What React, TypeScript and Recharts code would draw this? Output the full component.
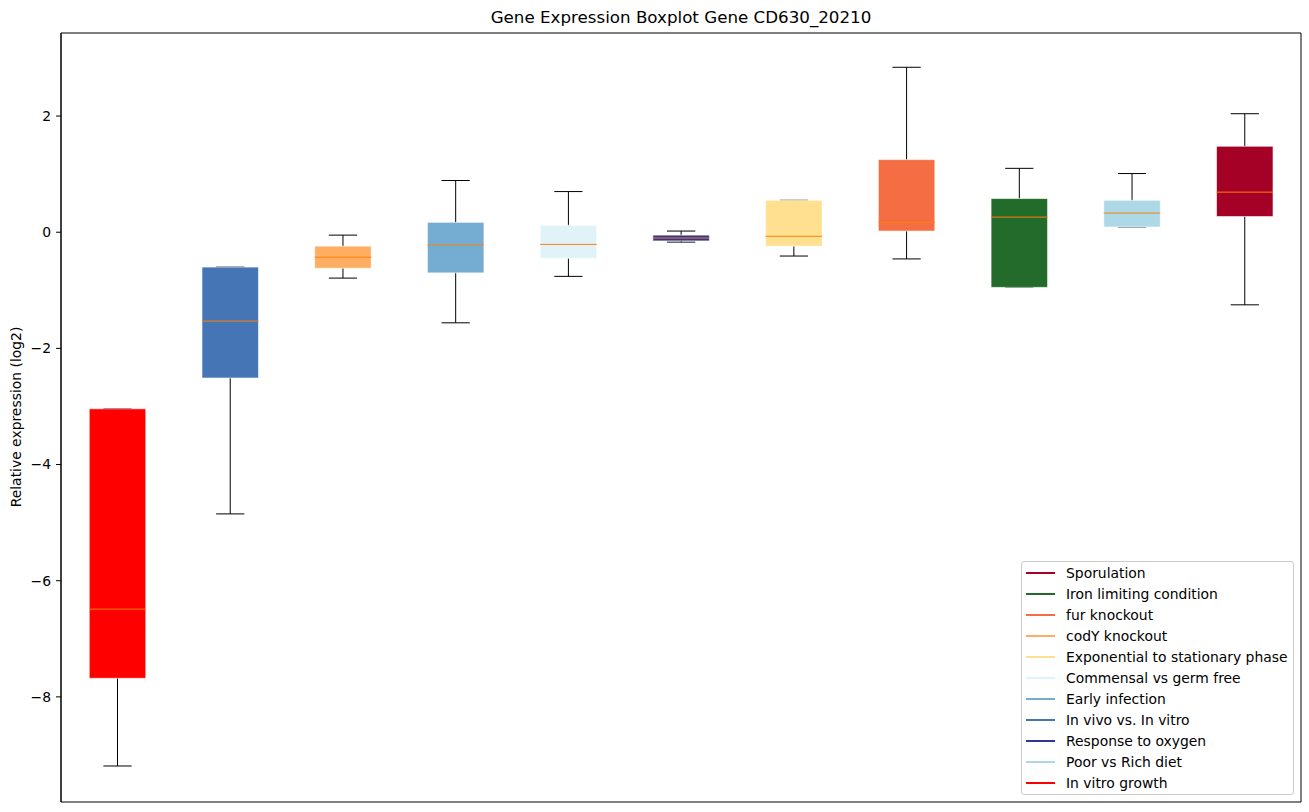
import React from 'react';
import { ComposedChart, Bar, XAxis, YAxis, Legend, ReferenceArea } from 'recharts';

const FONT = '"DejaVu Sans", sans-serif';

const categories = [
  'In vitro growth',
  'In vivo vs. In vitro',
  'codY knockout',
  'Early infection',
  'Commensal vs germ free',
  'Response to oxygen',
  'Exponential to stationary phase',
  'fur knockout',
  'Iron limiting condition',
  'Poor vs Rich diet',
  'Sporulation',
];
const colors = [
  '#ff0000', '#4575b4', '#fdae61', '#74add1', '#e0f3f8', '#313695',
  '#fee090', '#f46d43', '#236b2b', '#add8e6', '#a50026',
];
const whiskerLow = [-9.19, -4.85, -0.79, -1.56, -0.76, -0.17, -0.41, -0.46, -0.95, 0.09, -1.25];
const q1 = [-7.68, -2.51, -0.62, -0.70, -0.45, -0.15, -0.24, 0.02, -0.95, 0.09, 0.27];
const medians = [-6.49, -1.53, -0.43, -0.22, -0.21, -0.10, -0.07, 0.17, 0.26, 0.33, 0.69];
const q3 = [-3.04, -0.60, -0.24, 0.17, 0.12, -0.05, 0.55, 1.25, 0.58, 0.55, 1.48];
const whiskerHigh = [-3.04, -0.60, -0.05, 0.89, 0.70, 0.02, 0.55, 2.84, 1.10, 1.01, 2.04];
const yTicks = [-8, -6, -4, -2, 0, 2];
const yDomain = [-9.81, 3.43];

const legendNames = [
  'Sporulation',
  'Iron limiting condition',
  'fur knockout',
  'codY knockout',
  'Exponential to stationary phase',
  'Commensal vs germ free',
  'Early infection',
  'In vivo vs. In vitro',
  'Response to oxygen',
  'Poor vs Rich diet',
  'In vitro growth',
];

const data = categories.map((name, i) => ({
  name,
  range: [whiskerLow[i], whiskerHigh[i]],
  q1: q1[i],
  median: medians[i],
  q3: q3[i],
  color: colors[i],
}));

const BoxShape = (props: any) => {
  const { x, y, width, height, payload } = props;
  const [lo, hi] = payload.range;
  const top = Math.min(y, y + height);
  const h = Math.abs(height);
  const toY = (v: number) => top + ((hi - v) / (hi - lo)) * h;
  const cx = x + width / 2;
  const bw = width * 0.5;
  const cw = width * 0.25;
  const yHi = toY(hi);
  const yLo = toY(lo);
  const yQ3 = toY(payload.q3);
  const yQ1 = toY(payload.q1);
  const yMed = toY(payload.median);
  return (
    <g>
      <line x1={cx} x2={cx} y1={yHi} y2={yLo} stroke="#000" strokeWidth={1} />
      <line x1={cx - cw / 2} x2={cx + cw / 2} y1={yHi} y2={yHi} stroke="#000" strokeWidth={1} />
      <line x1={cx - cw / 2} x2={cx + cw / 2} y1={yLo} y2={yLo} stroke="#000" strokeWidth={1} />
      <rect
        x={cx - bw / 2}
        y={yQ3}
        width={bw}
        height={Math.max(yQ1 - yQ3, 1)}
        fill={payload.color}
        stroke="#ffffff"
        strokeOpacity={0.6}
        strokeWidth={1}
      />
      <line x1={cx - bw / 2} x2={cx + bw / 2} y1={yMed} y2={yMed} stroke="#ff7f0e" strokeWidth={1} />
    </g>
  );
};

const renderLegend = () => (
  <div
    style={{
      border: '1px solid #cccccc',
      borderRadius: 3,
      background: 'rgba(255,255,255,0.8)',
      padding: '0 0 0 4px',
      fontFamily: FONT,
      fontSize: 13.9,
      color: '#000',
      boxSizing: 'border-box',
      height: 234,
    }}
  >
    {legendNames.map((name) => (
      <div key={name} style={{ display: 'flex', alignItems: 'center', height: 21 }}>
        <span
          style={{
            display: 'inline-block',
            width: 29,
            height: 2,
            background: colors[categories.indexOf(name)],
            marginRight: 11,
          }}
        />
        <span style={{ whiteSpace: 'nowrap' }}>{name}</span>
      </div>
    ))}
  </div>
);

const minus = (v: number) => String(v).replace('-', '\u2212');

export default function App() {
  return (
    <div style={{ position: 'absolute', left: 0, top: 0, width: 1309, height: 812, background: '#fff' }}>
      <ComposedChart
        width={1309}
        height={812}
        data={data}
        margin={{ top: 33, right: 8, bottom: 10, left: 11 }}
        barCategoryGap={0}
      >
        <XAxis dataKey="name" type="category" hide />
        <YAxis
          type="number"
          domain={yDomain}
          ticks={yTicks}
          allowDataOverflow
          width={50}
          tickSize={5}
          tickMargin={5}
          tickFormatter={minus}
          tick={{ fontFamily: FONT, fontSize: 13.9, fill: '#000' }}
          tickLine={{ stroke: '#000', strokeWidth: 1 }}
          axisLine={{ stroke: '#000', strokeWidth: 1 }}
          label={() => (
            <text
              x={16}
              y={417}
              transform="rotate(-90 16 417)"
              textAnchor="middle"
              dominantBaseline="central"
              fontFamily={FONT}
              fontSize={13.9}
              fill="#000"
            >
              Relative expression (log2)
            </text>
          )}
        />
        <ReferenceArea
          y1={yDomain[1]}
          y2={yDomain[0]}
          fill="none"
          fillOpacity={0}
          stroke="#000"
          strokeWidth={1}
          ifOverflow="visible"
          label={(p: any) => {
            const vb = p.viewBox || { x: 61, y: 33, width: 1240 };
            return (
              <text
                x={vb.x + vb.width / 2}
                y={vb.y - 10}
                textAnchor="middle"
                fontFamily={FONT}
                fontSize={16.7}
                fill="#000"
              >
                Gene Expression Boxplot Gene CD630_20210
              </text>
            );
          }}
        />
        <Legend
          layout="vertical"
          align="center"
          verticalAlign="middle"
          content={renderLegend}
          wrapperStyle={{ left: 1021, top: 561, width: 273, height: 234 }}
        />
        <Bar dataKey="range" shape={<BoxShape />} isAnimationActive={false} />
      </ComposedChart>
    </div>
  );
}
